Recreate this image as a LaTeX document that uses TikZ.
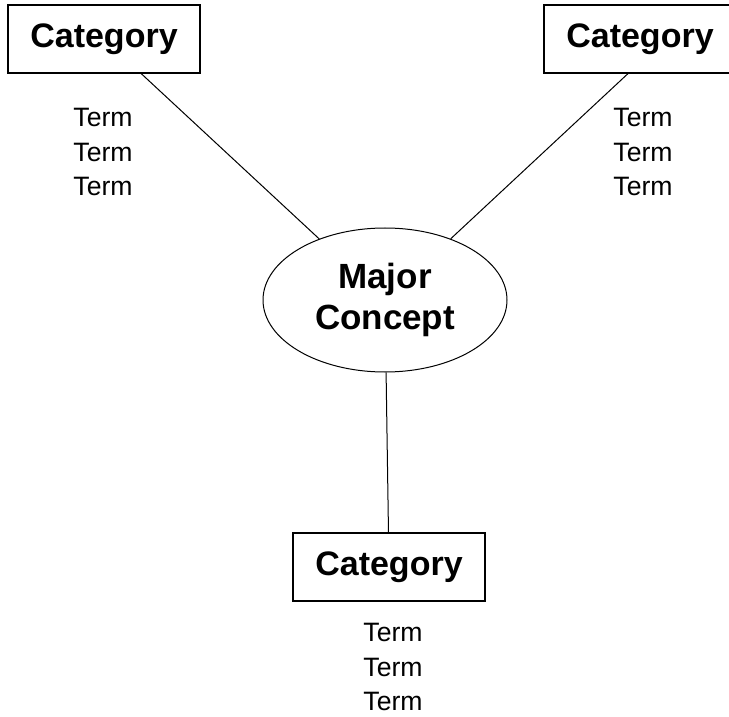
\documentclass[tikz,border=0pt]{standalone}
\usepackage{fontspec}
\setsansfont{Liberation Sans}
\usepackage{tikz}
\usetikzlibrary{shapes.geometric}

\begin{document}
\begin{tikzpicture}[x=0.5pt,y=-0.5pt,
    cat/.style={draw, line width=0.6pt, minimum width=96pt, minimum height=34pt,
                font=\sffamily\bfseries\fontsize{17}{20}\selectfont},
    term/.style={align=center, font=\sffamily\fontsize{13.3}{17.2}\selectfont},
    concept/.style={draw, ellipse, line width=0.5pt, inner sep=0pt,
                minimum width=122pt, minimum height=72pt, align=center,
                font=\sffamily\bfseries\fontsize{17.5}{20.5}\selectfont}]
\useasboundingbox (0,0) rectangle (729,717);

    \node[concept] (mc) at (385,300) {Major\\Concept};

    \node[cat] (tl) at (104,39) {Category};
    \node[cat] (tr) at (640,39) {Category};
    \node[cat] (bc) at (389,567) {Category};

    \node[term] (tlterms) at (103,152) {Term\\Term\\Term};
    \node[term] (trterms) at (643,152) {Term\\Term\\Term};
    \node[term] (bcterms) at (393,667) {Term\\Term\\Term};

    % draw the lines
    \draw[line width=0.5pt] (tl) -- (mc);
    \draw[line width=0.5pt] (mc) -- ([xshift=-6pt]tr.south);
    \draw[line width=0.5pt] (mc) -- (bc);

\end{tikzpicture}
\end{document}
